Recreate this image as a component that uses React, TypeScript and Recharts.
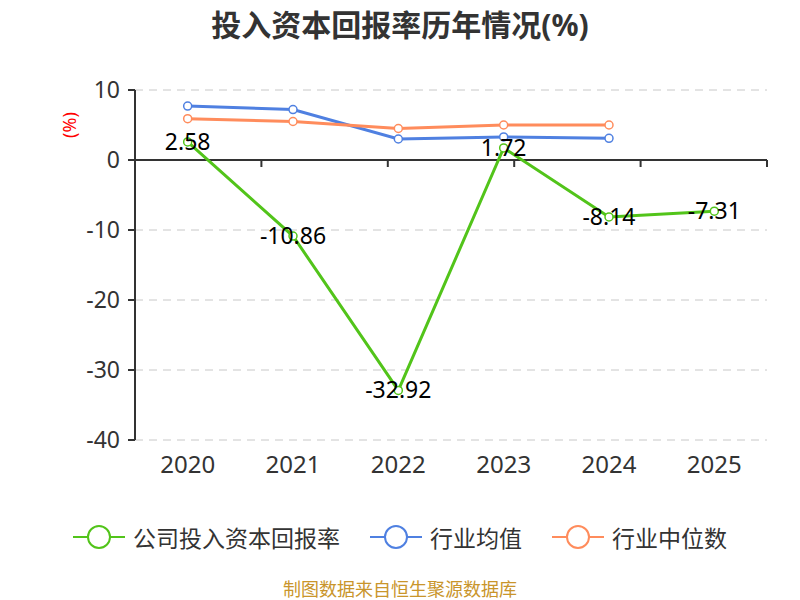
import React from 'react';
import {
  LineChart, Line, XAxis, YAxis, CartesianGrid, ReferenceLine, LabelList,
} from 'recharts';

const years = ['2020', '2021', '2022', '2023', '2024', '2025'];
const companyRoic = [2.58, -10.86, -32.92, 1.72, -8.14, -7.31];
const industryMean = [7.7, 7.2, 3.0, 3.3, 3.1, null];
const industryMedian = [5.9, 5.5, 4.5, 5.0, 5.0, null];
const yTicks = [-40, -30, -20, -10, 0, 10];

const GREEN = '#52c41a';
const BLUE = '#4f80e1';
const ORANGE = '#ff8c5c';
const FONT = '"Noto Sans", "Noto Sans CJK SC", sans-serif';

const data = years.map((year, i) => ({
  year,
  company: companyRoic[i],
  mean: industryMean[i],
  median: industryMedian[i],
}));

// tick marks along the zero line sit on category boundaries
const boundaries = Array.from({ length: years.length + 1 }, (_, i) => i);

const ValueLabel = (props: any) => {
  const { x, y, value } = props;
  if (value == null) return null;
  return (
    <text x={x} y={y - 1} textAnchor="middle" dominantBaseline="central" fontSize={23} fill="#000" fontFamily={FONT}>
      {value}
    </text>
  );
};

const legendItems = [
  { name: '公司投入资本回报率', color: GREEN },
  { name: '行业均值', color: BLUE },
  { name: '行业中位数', color: ORANGE },
];

function LegendIcon({ color }: { color: string }) {
  return (
    <svg width={52} height={26} style={{ marginRight: 8 }}>
      <line x1={0} y1={13} x2={52} y2={13} stroke={color} strokeWidth={2} />
      <circle cx={26} cy={13} r={11} fill="#fff" stroke={color} strokeWidth={2} />
    </svg>
  );
}

export default function App() {
  return (
    <div style={{ position: 'absolute', left: 0, top: 0, width: 800, height: 600, background: '#fff', fontFamily: FONT }}>
      <div style={{ position: 'absolute', top: 1, width: 800, textAlign: 'center', fontSize: 30, fontWeight: 700, color: '#333' }}>
        投入资本回报率历年情况(%)
      </div>
      <div style={{ position: 'absolute', left: 56, top: 113, transform: 'rotate(-90deg)', color: '#f00', fontSize: 18 }}>
        (%)
      </div>
      <LineChart width={800} height={600} data={data} margin={{ top: 90, right: 33, left: 75, bottom: 120 }}>
        <CartesianGrid vertical={false} stroke="#c8c8c8" strokeDasharray="8 6" />
        <XAxis dataKey="year" scale="band" axisLine={false} tickLine={false} tickSize={0} tickMargin={16} height={40}
          tick={{ fontSize: 24, fill: '#333', fontFamily: FONT }} />
        <XAxis xAxisId="n" type="number" domain={[0, years.length]} hide />
        <YAxis domain={[-40, 10]} ticks={yTicks} width={60} stroke="#333" tickSize={7} tickMargin={8}
          axisLine={{ stroke: '#333', strokeWidth: 2 }} tickLine={{ stroke: '#333', strokeWidth: 2 }}
          tick={{ fontSize: 23, fill: '#333', fontFamily: FONT }} />
        <ReferenceLine y={0} stroke="#333" strokeWidth={2} />
        {boundaries.map((b) => (
          <ReferenceLine key={b} xAxisId="n" segment={[{ x: b, y: 0 }, { x: b, y: -1 }]} stroke="#333" strokeWidth={2} />
        ))}
        <Line dataKey="mean" stroke={BLUE} strokeWidth={3} isAnimationActive={false}
          dot={{ r: 4, fill: '#fff', stroke: BLUE, strokeWidth: 1.5 }} />
        <Line dataKey="median" stroke={ORANGE} strokeWidth={3} isAnimationActive={false}
          dot={{ r: 4, fill: '#fff', stroke: ORANGE, strokeWidth: 1.5 }} />
        <Line dataKey="company" stroke={GREEN} strokeWidth={3} isAnimationActive={false}
          dot={{ r: 4, fill: '#fff', stroke: GREEN, strokeWidth: 1.5 }}>
          <LabelList dataKey="company" content={ValueLabel} />
        </Line>
      </LineChart>
      <div style={{ position: 'absolute', top: 520, width: 800, display: 'flex', justifyContent: 'center', alignItems: 'center', fontSize: 23, color: '#333' }}>
        {legendItems.map((item, i) => (
          <div key={item.name} style={{ display: 'flex', alignItems: 'center', marginRight: i < legendItems.length - 1 ? 30 : 0 }}>
            <LegendIcon color={item.color} />
            <span>{item.name}</span>
          </div>
        ))}
      </div>
      <div style={{ position: 'absolute', top: 575, width: 800, textAlign: 'center', fontSize: 18, color: '#c9952b' }}>
        制图数据来自恒生聚源数据库
      </div>
    </div>
  );
}
